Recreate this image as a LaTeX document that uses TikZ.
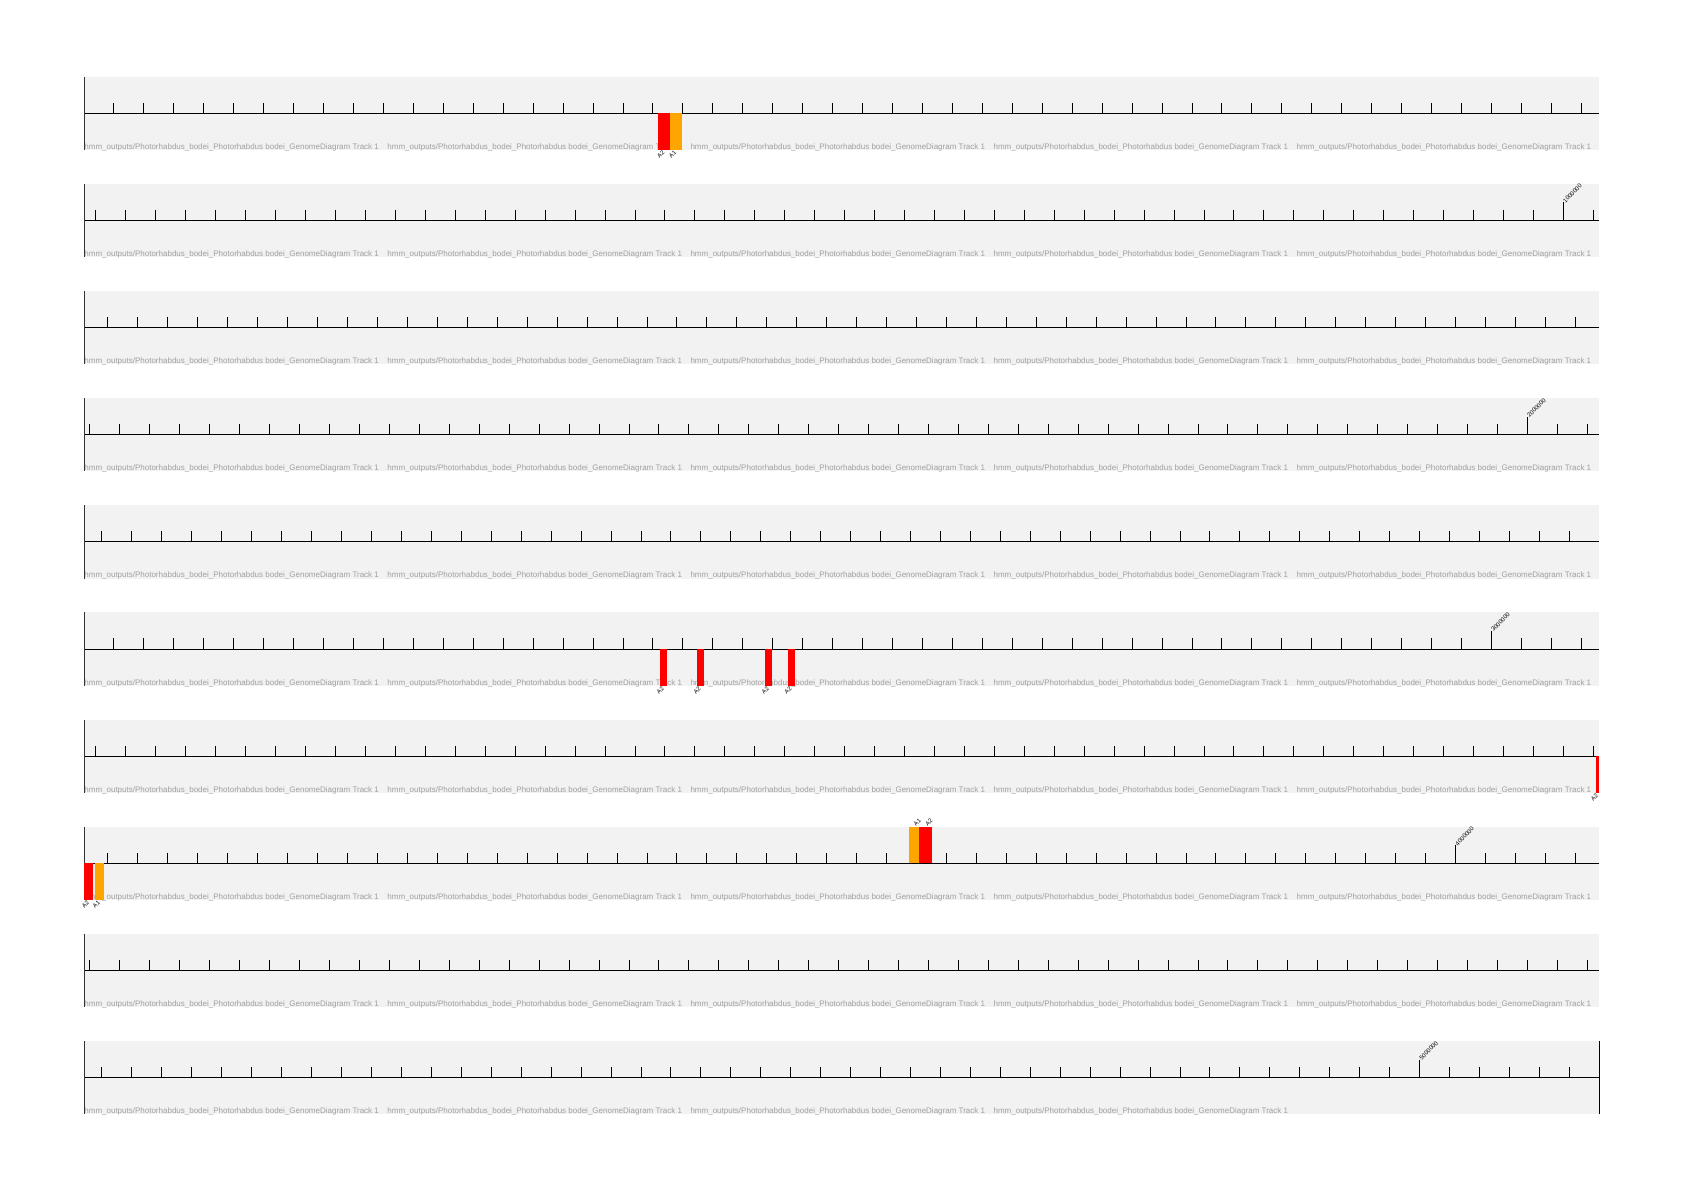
\documentclass[tikz,border=0pt]{standalone}
\usepackage{fontspec}
\setmainfont{Liberation Sans}
\definecolor{bandgray}{RGB}{242,242,242}
\definecolor{labgray}{RGB}{160,160,160}
\definecolor{hitred}{RGB}{255,0,0}
\definecolor{hitorange}{RGB}{255,165,0}
% feature below the axis: track, from, to, colour, label
\newcommand{\featlo}[5]{%
	\pgfmathsetmacro\fy{113.3+107.15*#1}
	\fill[#4] (#2,\fy) rectangle (#3,\fy+36.7);
	\node[featlab,anchor=east] at ({(#2+#3)/2},\fy+38) {#5};}
% feature above the axis
\newcommand{\featup}[5]{%
	\pgfmathsetmacro\fy{113.3+107.15*#1}
	\fill[#4] (#2,\fy-36.6) rectangle (#3,\fy);
	\node[featlab,anchor=west] at ({(#2+#3)/2},\fy-37.5) {#5};}

\begin{document}
\begin{tikzpicture}[x=0.5pt,y=-0.5pt,
	tracklab/.style={inner sep=0pt,anchor=base west,text=labgray,font=\fontsize{4}{4}\selectfont},
	ticklab/.style={inner sep=0.3pt,anchor=west,rotate=45,font=\fontsize{3}{3}\selectfont},
	featlab/.style={inner sep=0.3pt,rotate=45,font=\fontsize{3}{3}\selectfont}]
	\useasboundingbox[fill=white] (0,0) rectangle (1684,1191);
	\foreach \t in {0,...,9} {
		\pgfmathsetmacro\ya{113.3+107.15*\t}
		\fill[bandgray] (84,\ya-36.6) rectangle (1599.3,\ya+36.7);
		\pgfmathtruncatemacro\nlab{\t==9 ? 3 : 4}
		\foreach \i in {0,...,\nlab}
			\node[tracklab] at (84+303.06*\i,\ya+36) {hmm\_outputs/Photorhabdus\_bodei\_Photorhabdus bodei\_GenomeDiagram Track 1};
		\draw[line width=0.55pt] (84,\ya) -- (1599.3,\ya);
		\draw[line width=0.5pt,black!80] (84,\ya-36.6) -- (84,\ya+36.7);
		\pgfmathtruncatemacro\kfirst{floor(\t*50.6+0.001)+1}
		\foreach \j in {0,...,51} {
			\pgfmathtruncatemacro\k{\kfirst+\j}
			\pgfmathsetmacro\xt{84+(\k*10-\t*506)/506*1515.3}
			\pgfmathtruncatemacro\inside{\xt<1598 ? 1 : 0}
			\pgfmathtruncatemacro\major{mod(\k,100)==0 ? 1 : 0}
			\ifnum\inside=1
				\ifnum\major=1
					\pgfmathtruncatemacro\m{\k/100}
					\draw[line width=0.5pt] (\xt,\ya) -- (\xt,\ya-18) node[ticklab] {\m000000};
				\else
					\draw[line width=0.5pt] (\xt,\ya) -- (\xt,\ya-10.7);
				\fi
			\fi
		}
	}
	\draw[line width=0.5pt] (1599.3,1077.7-36.6) -- (1599.3,1077.7+36.7);
	% hits
	\featlo{0}{658.3}{670}{hitred}{A2}
	\featlo{0}{670}{681.7}{hitorange}{A1}
	\featlo{5}{660}{667.3}{hitred}{A2}
	\featlo{5}{696.7}{704.3}{hitred}{A2}
	\featlo{5}{765}{772.3}{hitred}{A2}
	\featlo{5}{787.7}{795}{hitred}{A2}
	\featlo{6}{1596}{1599.3}{hitred}{A2}
	\featlo{7}{84.3}{93.3}{hitred}{A2}
	\featlo{7}{95}{104.3}{hitorange}{A1}
	\featup{7}{909}{919}{hitorange}{A1}
	\featup{7}{919.3}{932}{hitred}{A2}
\end{tikzpicture}
\end{document}
